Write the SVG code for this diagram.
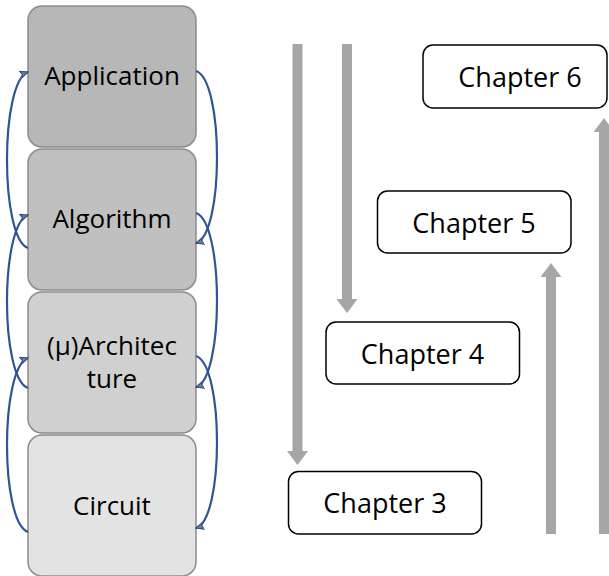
<svg xmlns="http://www.w3.org/2000/svg" width="609" height="576" viewBox="0 0 609 576">
<style>
.lay{stroke:#8c8c8c;stroke-width:1.5}
.ch{fill:#fff;stroke:#000;stroke-width:1.5}
.t{font-family:"Open Sans","Liberation Sans",sans-serif;font-size:26px;fill:#000;text-anchor:middle}
.tc{font-family:"Open Sans","Liberation Sans",sans-serif;font-size:27px;fill:#000;text-anchor:middle}
.blue{fill:none;stroke:#2f5597;stroke-width:2.2}
.gray{fill:#a6a6a6;stroke:none}
</style>
<defs>
<marker id="ah" markerWidth="10" markerHeight="8" refX="8" refY="4" orient="auto" markerUnits="userSpaceOnUse">
<path d="M0,0.5 L8,4 L0,7.5 L2,4 Z" fill="#7f7f7f" stroke="#2f5597" stroke-width="1.2"/>
</marker>
</defs>
<g id="application"><rect class="lay" x="28" y="6" width="168" height="141" rx="14" fill="#b7b7b7"/><text class="t" x="112" y="85">Application</text></g>
<g id="algorithm"><rect class="lay" x="28" y="149" width="168" height="141" rx="14" fill="#c0c0c0"/><text class="t" x="112" y="228">Algorithm</text></g>
<g id="architecture"><rect class="lay" x="28" y="292" width="168" height="141" rx="14" fill="#d0d0d0"/><text class="t" x="112" y="355">(μ)Architec</text><text class="t" x="112" y="388">ture</text></g>
<g id="circuit"><rect class="lay" x="28" y="435" width="168" height="141" rx="14" fill="#e3e3e3"/><text class="t" x="112" y="515">Circuit</text></g>
<g id="chapter6"><rect class="ch" x="423" y="45" width="184" height="63" rx="10"/><text class="tc" x="520" y="87">Chapter 6</text></g>
<g id="chapter5"><rect class="ch" x="377.5" y="191" width="193.5" height="62" rx="10"/><text class="tc" x="474" y="233">Chapter 5</text></g>
<g id="chapter4"><rect class="ch" x="326" y="322" width="193.5" height="62" rx="10"/><text class="tc" x="422.5" y="364">Chapter 4</text></g>
<g id="chapter3"><rect class="ch" x="288.5" y="471.5" width="193" height="62.5" rx="10"/><text class="tc" x="385" y="513">Chapter 3</text></g>
<g id="connectors">
<path class="blue" d="M28,248 C0,238 0,82 28,72" marker-end="url(#ah)"/>
<path class="blue" d="M28,388 C0,378 0,225 28,215" marker-end="url(#ah)"/>
<path class="blue" d="M28,532 C0,522 0,368 28,358" marker-end="url(#ah)"/>
<path class="blue" d="M196,71 C224,80 224,235 196,243" marker-end="url(#ah)"/>
<path class="blue" d="M196,213 C224,222 224,379 196,387" marker-end="url(#ah)"/>
<path class="blue" d="M196,356 C224,365 224,520 196,528" marker-end="url(#ah)"/>
<path class="gray" d="M292.5,44 H302.5 V451 H308 L297.5,465 L287,451 H292.5 Z"/>
<path class="gray" d="M342,44 H352 V299 H357.5 L347,313 L336.5,299 H342 Z"/>
<path class="gray" d="M546,534 H556 V277 H561.5 L551,263 L540.5,277 H546 Z"/>
<path class="gray" d="M599,534 H609 V132 H614.5 L604,118 L593.5,132 H599 Z"/>
</g>
</svg>
